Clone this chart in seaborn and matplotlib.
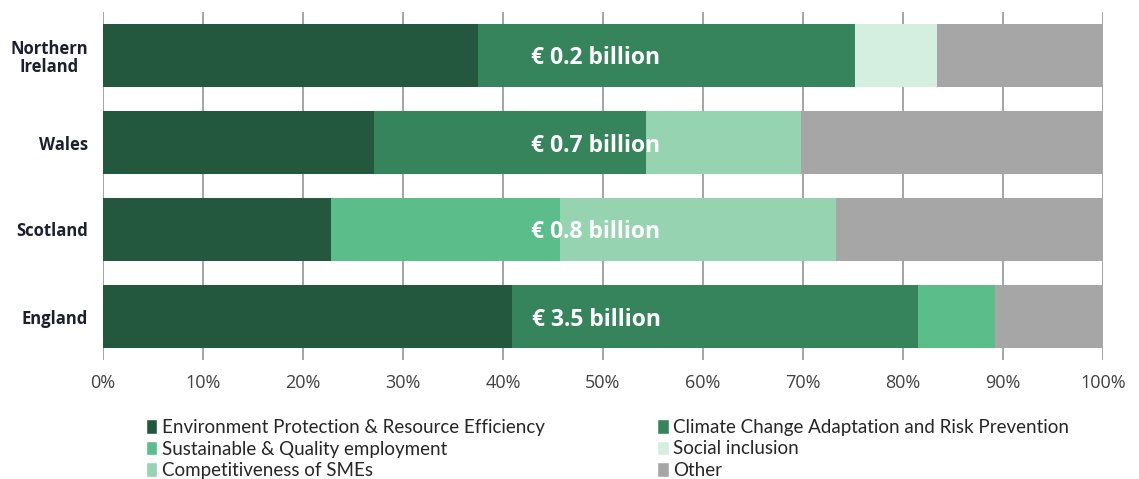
import pandas as pd
import numpy as np
import matplotlib
matplotlib.use("Agg")
import matplotlib.pyplot as plt
from matplotlib.patches import Patch
import seaborn as sns

sns.set_style("white")
plt.rcParams['font.family'] = ['Open Sans', 'DejaVu Sans']

# Data (% of each nation's allocation)
regions = ['Northern\nIreland', 'Wales', 'Scotland', 'England']
totals = ['€ 0.2 billion', '€ 0.7 billion', '€ 0.8 billion', '€ 3.5 billion']
env = [37.5, 27.1, 22.8, 40.9]
climate = [37.7, 27.2, 0.0, 40.6]
sustainable = [0.0, 0.0, 22.9, 7.7]
social = [8.2, 0.0, 0.0, 0.0]
smes = [0.0, 15.5, 27.6, 0.0]
other = [16.6, 30.2, 26.7, 10.8]

names = ['Environment Protection & Resource Efficiency',
         'Climate Change Adaptation and Risk Prevention',
         'Sustainable & Quality employment',
         'Social inclusion',
         'Competitiveness of SMEs',
         'Other']
colors = ['#23573e', '#36845c', '#5bbd8a', '#d4eee0', '#96d3b0', '#a6a6a6']

df = pd.DataFrame({'region': regions})
series = [env, climate, sustainable, social, smes, other]
for n, s in zip(names, series):
    df[n] = s
cum = df[names].cumsum(axis=1)
cum['region'] = regions

fig = plt.figure(figsize=(11.39, 4.79), dpi=100)
ax = fig.add_axes([103 / 1139, 1 - 360 / 479, 1000 / 1139, 348 / 479])

# overlay cumulative bars, longest first
for n, c in reversed(list(zip(names, colors))):
    sns.barplot(data=cum, x=n, y='region', color=c, linewidth=0,
                orient='h', width=0.73, saturation=1, ax=ax, zorder=2)

for i, t in enumerate(totals):
    ax.text(49.3, i, t, color='white', fontsize=16.5, fontweight='bold',
            ha='center', va='center_baseline', zorder=3)

ax.set_xlim(0, 100)
ax.set_ylim(3.5, -0.5)
ax.set_xticks(np.arange(0, 101, 10))
ax.set_xticklabels([f'{v}%' for v in range(0, 101, 10)], fontsize=13, color='#404040')
ax.tick_params(axis='x', length=0, pad=10)
ax.tick_params(axis='y', length=0, pad=11)
for lab in ax.get_yticklabels():
    lab.set_fontweight('bold')
    lab.set_fontsize(12)
    lab.set_color('#1c1f2e')
    lab.set_linespacing(1.05)
    lab.set_multialignment('center')
ax.set_xlabel('')
ax.set_ylabel('')
ax.grid(axis='x', color='#8c8c8c', linewidth=1.1)
ax.set_axisbelow(True)
for sp in ax.spines.values():
    sp.set_visible(False)

order = [0, 2, 4, 1, 3, 5]
handles = [Patch(facecolor=colors[k], label=names[k]) for k in order]
fig.legend(handles=handles, ncol=2, loc='upper left', bbox_to_anchor=(131 / 1139, 1 - 404 / 479),
           frameon=False, handlelength=0.6, handleheight=0.8,
           handletextpad=0.25, labelspacing=0.24, columnspacing=6.0, borderpad=0.3,
           prop={'family': ['Lato', 'DejaVu Sans'], 'size': 13.5})

fig.savefig('out.png', dpi=100)
